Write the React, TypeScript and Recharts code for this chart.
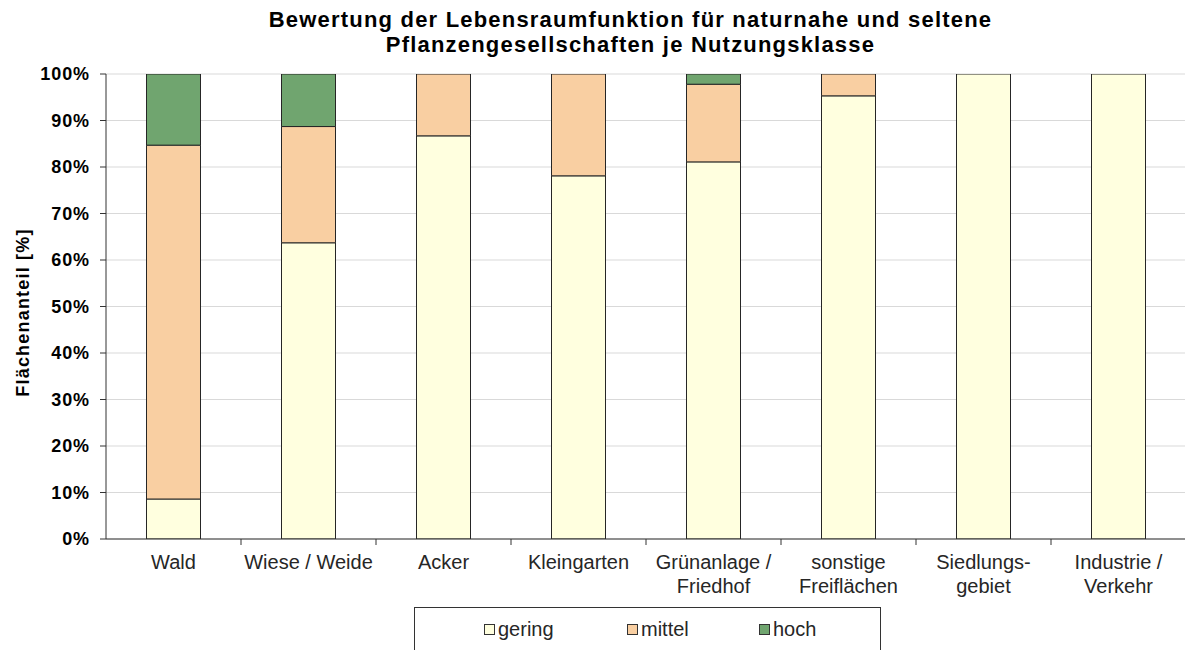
import React from "react";
import { BarChart, Bar, XAxis, YAxis, CartesianGrid, Legend } from "recharts";

const CATEGORIES = [
  "Wald",
  "Wiese / Weide",
  "Acker",
  "Kleingarten",
  "Grünanlage /\nFriedhof",
  "sonstige\nFreiflächen",
  "Siedlungs-\ngebiet",
  "Industrie /\nVerkehr",
];
const GERING = [8.6, 63.7, 86.7, 78.1, 81.1, 95.3, 100, 100];
const MITTEL = [76.1, 25.0, 13.3, 21.9, 16.7, 4.7, 0, 0];
const HOCH = [15.3, 11.3, 0, 0, 2.2, 0, 0, 0];
const Y_TICKS = [0, 10, 20, 30, 40, 50, 60, 70, 80, 90, 100];

const SERIES = [
  { key: "gering", color: "#FFFFDF" },
  { key: "mittel", color: "#F9CFA2" },
  { key: "hoch", color: "#70A56F" },
];

const data = CATEGORIES.map((name, i) => ({
  name,
  gering: GERING[i],
  mittel: MITTEL[i],
  hoch: HOCH[i],
}));

const W = 1185;
const H = 650;
const LEFT = 106;
const RIGHT = -1;
const FONT = "Arial, 'Liberation Sans', sans-serif";
const step = (W - LEFT - RIGHT) / CATEGORIES.length;

function XTick(props: any) {
  const { x, y, payload, index } = props;
  const lines = String(payload.value).split("\n");
  return (
    <g>
      {index > 0 && (
        <line x1={x - step / 2} x2={x - step / 2} y1={y - 8} y2={y - 2} stroke="#333" />
      )}
      <text textAnchor="middle" fontSize={20} fill="#262626" fontFamily={FONT}>
        {lines.map((l, i) => (
          <tspan key={i} x={x} y={y + 22 + i * 23.5}>
            {l}
          </tspan>
        ))}
      </text>
    </g>
  );
}

function YLabel(props: any) {
  const vb = props.viewBox || { x: 0, y: 74, width: LEFT, height: 465 };
  const cx = vb.x + 23;
  const cy = vb.y + vb.height / 2 + 6;
  return (
    <text
      x={cx}
      y={cy}
      transform={`rotate(-90 ${cx} ${cy})`}
      textAnchor="middle"
      dominantBaseline="central"
      fontSize={18}
      fontWeight="bold"
      fill="#000"
      fontFamily={FONT}
      letterSpacing={1.2}
    >
      Flächenanteil [%]
    </text>
  );
}

const LEGEND_X = [69, 212, 344];

function LegendBox(props: any) {
  const items = SERIES.map(
    (s) => props.payload.find((p: any) => p.dataKey === s.key) || { value: s.key, color: s.color }
  );
  return (
    <div
      style={{
        position: "relative",
        width: 467,
        height: 50,
        border: "1px solid #333",
        boxSizing: "border-box",
        fontFamily: FONT,
        fontSize: 20,
        lineHeight: "20px",
        color: "#262626",
      }}
    >
      {items.map((p: any, i: number) => (
        <div
          key={p.value}
          style={{
            position: "absolute",
            left: LEGEND_X[i],
            top: 11,
            display: "flex",
            alignItems: "center",
          }}
        >
          <span
            style={{
              display: "inline-block",
              width: 11,
              height: 11,
              boxSizing: "border-box",
              background: p.color,
              border: "1px solid #333",
              marginRight: 3,
            }}
          />
          {p.value}
        </div>
      ))}
    </div>
  );
}

export default function App() {
  return (
    <div style={{ position: "absolute", left: 0, top: 0, width: W, height: H, background: "#fff", overflow: "hidden" }}>
      <div
        style={{
          position: "absolute",
          left: 0,
          top: 7,
          width: 1261,
          textAlign: "center",
          fontFamily: FONT,
          fontWeight: "bold",
          fontSize: 22,
          letterSpacing: 1.2,
          lineHeight: "25px",
          color: "#000",
        }}
      >
        Bewertung der Lebensraumfunktion für naturnahe und seltene
        <br />
        Pflanzengesellschaften je Nutzungsklasse
      </div>
      <BarChart
        width={W}
        height={H}
        data={data}
        margin={{ top: 74, right: RIGHT, left: 0, bottom: 0 }}
        barCategoryGap="30%"
        style={{ position: "absolute", left: 0, top: 0 }}
      >
        <CartesianGrid vertical={false} stroke="#d9d9d9" />
        <XAxis
          dataKey="name"
          height={111}
          interval={0}
          tick={<XTick />}
          tickLine={false}
          axisLine={{ stroke: "#333" }}
        />
        <YAxis
          width={LEFT}
          domain={[0, 100]}
          ticks={Y_TICKS}
          allowDataOverflow
          tickFormatter={(v: number) => `${v}%`}
          tick={{ fontSize: 18, fontWeight: "bold", fill: "#000", fontFamily: FONT, letterSpacing: 0.9 }}
          tickSize={6}
          tickMargin={10}
          tickLine={{ stroke: "#333" }}
          axisLine={{ stroke: "#333" }}
          label={<YLabel />}
        />
        <Legend
          layout="horizontal"
          verticalAlign="middle"
          align="center"
          wrapperStyle={{ top: 607, left: 414, width: 467, height: 50 }}
          content={<LegendBox />}
        />
        {SERIES.map((s) => (
          <Bar
            key={s.key}
            dataKey={s.key}
            stackId="a"
            fill={s.color}
            stroke="#262626"
            strokeWidth={1}
            isAnimationActive={false}
          />
        ))}
      </BarChart>
    </div>
  );
}
